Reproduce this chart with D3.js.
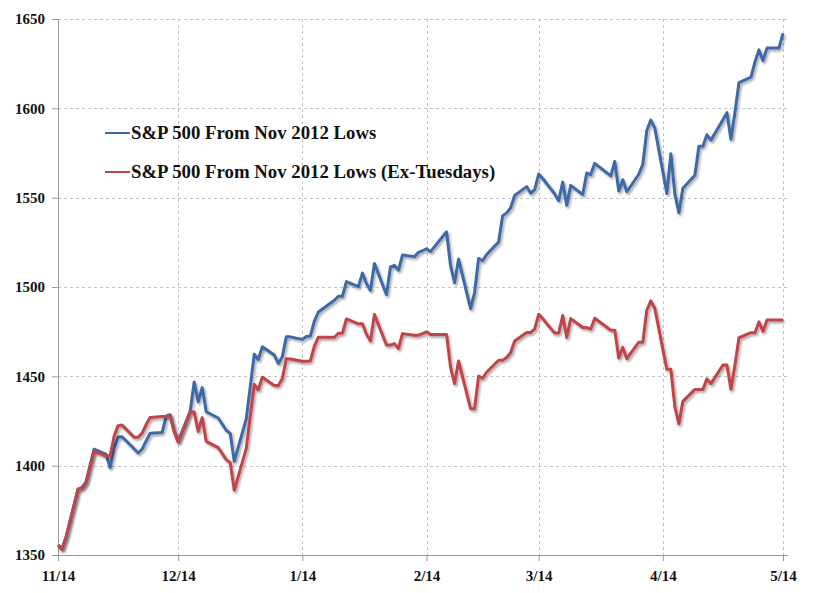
<!DOCTYPE html>
<html>
<head>
<meta charset="utf-8">
<script src="https://cdn.jsdelivr.net/npm/d3@7"></script>
<style>
  body { margin: 0; background: #fff; }
  text { font-family: "Liberation Serif", "DejaVu Serif", serif; font-weight: bold; fill: #111; }
</style>
</head>
<body>
<svg id="chart" width="816" height="593"></svg>
<script>
// trading days, Nov 14 2012 .. May 14 2013
var dates = [
  "2012-11-14","2012-11-15","2012-11-16","2012-11-19","2012-11-20","2012-11-21","2012-11-23",
  "2012-11-26","2012-11-27","2012-11-28","2012-11-29","2012-11-30",
  "2012-12-03","2012-12-04","2012-12-05","2012-12-06","2012-12-07",
  "2012-12-10","2012-12-11","2012-12-12","2012-12-13","2012-12-14",
  "2012-12-17","2012-12-18","2012-12-19","2012-12-20","2012-12-21",
  "2012-12-24","2012-12-26","2012-12-27","2012-12-28","2012-12-31",
  "2013-01-02","2013-01-03","2013-01-04","2013-01-07","2013-01-08","2013-01-09","2013-01-10","2013-01-11",
  "2013-01-14","2013-01-15","2013-01-16","2013-01-17","2013-01-18",
  "2013-01-22","2013-01-23","2013-01-24","2013-01-25",
  "2013-01-28","2013-01-29","2013-01-30","2013-01-31","2013-02-01",
  "2013-02-04","2013-02-05","2013-02-06","2013-02-07","2013-02-08",
  "2013-02-11","2013-02-12","2013-02-13","2013-02-14","2013-02-15",
  "2013-02-19","2013-02-20","2013-02-21","2013-02-22",
  "2013-02-25","2013-02-26","2013-02-27","2013-02-28","2013-03-01",
  "2013-03-04","2013-03-05","2013-03-06","2013-03-07","2013-03-08",
  "2013-03-11","2013-03-12","2013-03-13","2013-03-14","2013-03-15",
  "2013-03-18","2013-03-19","2013-03-20","2013-03-21","2013-03-22",
  "2013-03-25","2013-03-26","2013-03-27","2013-03-28",
  "2013-04-01","2013-04-02","2013-04-03","2013-04-04","2013-04-05",
  "2013-04-08","2013-04-09","2013-04-10","2013-04-11","2013-04-12",
  "2013-04-15","2013-04-16","2013-04-17","2013-04-18","2013-04-19",
  "2013-04-22","2013-04-23","2013-04-24","2013-04-25","2013-04-26",
  "2013-04-29","2013-04-30","2013-05-01","2013-05-02","2013-05-03",
  "2013-05-06","2013-05-07","2013-05-08","2013-05-09","2013-05-10",
  "2013-05-13","2013-05-14"
];

var spx = [
  1355.5,1353.3,1359.9,1386.9,1387.8,1391.0,1409.2,
  1406.3,1398.9,1409.9,1416.0,1416.2,
  1409.5,1407.1,1409.3,1413.9,1418.1,
  1418.6,1427.8,1428.5,1419.5,1413.6,
  1430.4,1446.8,1435.8,1443.7,1430.2,
  1426.7,1419.8,1418.1,1402.4,1426.2,
  1462.4,1459.4,1466.5,1461.9,1457.2,1461.0,1472.1,1472.1,
  1470.7,1472.3,1472.6,1480.9,1486.0,
  1492.6,1494.8,1494.8,1503.0,
  1500.2,1507.8,1502.0,1498.1,1513.2,
  1495.7,1511.3,1512.1,1509.4,1517.9,
  1517.0,1519.4,1520.3,1521.4,1519.8,
  1530.9,1512.0,1502.4,1515.6,
  1487.9,1496.9,1516.0,1514.7,1518.2,
  1525.2,1539.8,1541.5,1544.3,1551.2,
  1556.2,1552.5,1554.5,1563.2,1560.7,
  1552.1,1548.3,1558.7,1545.8,1556.9,
  1551.7,1563.8,1562.9,1569.2,
  1562.2,1570.3,1553.7,1560.0,1553.3,
  1563.1,1568.6,1587.7,1593.4,1588.9,
  1552.4,1574.6,1552.0,1541.6,1555.3,
  1562.5,1578.8,1578.8,1585.2,1582.2,
  1593.6,1597.6,1582.7,1597.6,1614.4,
  1617.5,1626.0,1632.7,1626.7,1633.7,
  1633.8,1642.0
];

var exTue = [
  1355.5,1353.3,1359.9,1386.9,1386.9,1390.1,1408.2,
  1405.4,1405.4,1416.4,1422.4,1422.7,
  1415.9,1415.9,1418.2,1422.9,1427.0,
  1427.5,1427.5,1428.1,1419.1,1413.2,
  1430.0,1430.0,1419.2,1426.9,1413.6,
  1410.1,1403.4,1401.7,1386.2,1409.7,
  1445.5,1442.5,1449.5,1444.9,1444.9,1448.8,1459.8,1459.7,
  1458.4,1458.4,1458.6,1466.9,1471.9,
  1471.9,1474.1,1474.1,1482.1,
  1479.4,1479.4,1473.6,1469.8,1484.6,
  1467.5,1467.5,1468.3,1465.6,1473.9,
  1473.0,1473.0,1473.9,1474.9,1473.4,
  1473.4,1455.1,1445.9,1458.6,
  1431.9,1431.9,1450.1,1448.9,1452.3,
  1459.0,1459.0,1460.5,1463.2,1469.8,
  1474.5,1474.5,1476.5,1484.7,1482.3,
  1474.2,1474.2,1484.0,1471.7,1482.3,
  1477.3,1477.3,1476.5,1482.5,
  1475.8,1475.8,1460.3,1466.2,1459.9,
  1469.1,1469.1,1487.0,1492.3,1488.0,
  1453.9,1453.9,1433.0,1423.4,1436.0,
  1442.7,1442.7,1442.7,1448.6,1445.9,
  1456.3,1456.3,1442.7,1456.3,1471.6,
  1474.4,1474.4,1480.5,1475.1,1481.5,
  1481.5,1481.5
];

var yTicks = [1350, 1400, 1450, 1500, 1550, 1600, 1650];
var xTicks = ["2012-11-14","2012-12-14","2013-01-14","2013-02-14","2013-03-14","2013-04-14","2013-05-14"];
var seriesNames = ["S&P 500 From Nov 2012 Lows", "S&P 500 From Nov 2012 Lows (Ex-Tuesdays)"];
var seriesColors = ["#3c69a6", "#c0444a"];

(function() {
  var parse = d3.timeParse("%Y-%m-%d");
  var fmt = d3.timeFormat("%-m/%-d");

  var svg = d3.select("#chart");
  var plotLeft = 58, plotRight = 783, plotTop = 19, plotBottom = 555, gridEnd = 788;

  var x = d3.scaleTime()
    .domain([parse(xTicks[0]), parse(xTicks[xTicks.length - 1])])
    .range([plotLeft, plotRight]);
  var y = d3.scaleLinear().domain([1350, 1650]).range([plotBottom, plotTop]);

  // drop shadow under the lines
  var f = svg.append("defs").append("filter").attr("id", "shadow")
    .attr("x", "-5%").attr("y", "-5%").attr("width", "110%").attr("height", "110%");
  f.append("feDropShadow").attr("dx", 1.5).attr("dy", 2).attr("stdDeviation", 1.2)
    .attr("flood-color", "#000").attr("flood-opacity", 0.35);

  // grid
  svg.append("g").selectAll("line").data(yTicks.slice(1)).join("line")
    .attr("x1", plotLeft).attr("x2", gridEnd)
    .attr("y1", d => Math.round(y(d)) + 0.5).attr("y2", d => Math.round(y(d)) + 0.5)
    .attr("stroke", "#c4c4c4").attr("stroke-dasharray", "3,3");
  svg.append("g").selectAll("line").data(xTicks.slice(1)).join("line")
    .attr("x1", d => Math.round(x(parse(d))) + 0.5).attr("x2", d => Math.round(x(parse(d))) + 0.5)
    .attr("y1", plotTop).attr("y2", plotBottom)
    .attr("stroke", "#c4c4c4").attr("stroke-dasharray", "3,3");

  // axes
  var yAxis = svg.append("g").attr("transform", "translate(" + plotLeft + ",0)")
    .call(d3.axisLeft(y).tickValues(yTicks).tickSize(6).tickPadding(7).tickFormat(d3.format("d")));
  var xAxis = svg.append("g").attr("transform", "translate(0," + plotBottom + ")")
    .call(d3.axisBottom(x).tickValues(xTicks.map(parse)).tickSize(6).tickPadding(9).tickFormat(fmt));
  [yAxis, xAxis].forEach(function(a) {
    a.select(".domain").remove();
    a.selectAll(".tick line").attr("stroke", "#9a9a9a");
    a.selectAll("text").style("font-size", "15px").attr("fill", "#111");
  });
  svg.append("line").attr("x1", plotLeft + 0.5).attr("x2", plotLeft + 0.5)
    .attr("y1", plotTop).attr("y2", plotBottom).attr("stroke", "#9a9a9a");
  svg.append("line").attr("x1", plotLeft).attr("x2", gridEnd)
    .attr("y1", plotBottom + 0.5).attr("y2", plotBottom + 0.5).attr("stroke", "#9a9a9a");

  // lines
  var line = d3.line().x((d, i) => x(parse(dates[i]))).y(d => y(d));
  [spx, exTue].forEach(function(s, k) {
    svg.append("path").datum(s)
      .attr("d", line)
      .attr("fill", "none")
      .attr("stroke", seriesColors[k])
      .attr("stroke-width", 3)
      .attr("stroke-linejoin", "round")
      .attr("filter", "url(#shadow)");
  });

  // legend
  var lg = svg.append("g").selectAll("g").data(seriesNames).join("g")
    .attr("transform", (d, i) => "translate(105," + (133 + i * 39) + ")");
  lg.append("line").attr("x1", 0).attr("x2", 25)
    .attr("stroke", (d, i) => seriesColors[i]).attr("stroke-width", 2);
  lg.append("text").attr("x", 26).attr("y", 6)
    .style("font-size", "18.8px")
    .text(d => d);
})();
</script>
</body>
</html>
